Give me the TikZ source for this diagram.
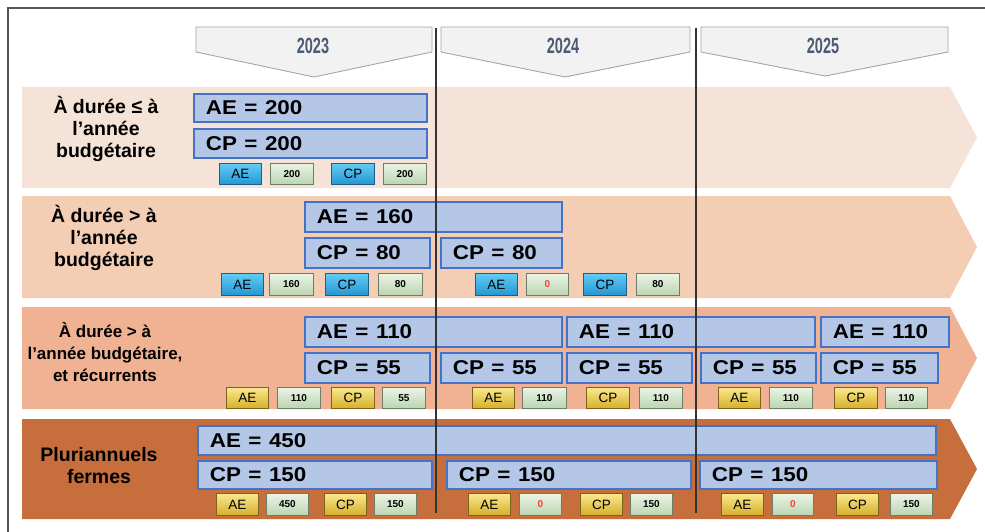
\documentclass[tikz,border=0pt]{standalone}
\usepackage{fontspec}
\setmainfont{Liberation Sans}
\usepackage{graphicx}
\definecolor{bandA}{HTML}{F6E3D8}
\definecolor{bandB}{HTML}{F4CDB5}
\definecolor{bandC}{HTML}{F0B293}
\definecolor{bandD}{HTML}{C66F3D}
\definecolor{chevfill}{HTML}{F2F2F2}
\definecolor{chevline}{HTML}{A6A6A6}
\definecolor{yeartext}{HTML}{4B5A75}
\definecolor{boxfill}{HTML}{B4C7E7}
\definecolor{boxline}{HTML}{4472C4}
\definecolor{divline}{HTML}{333333}
\definecolor{frameline}{HTML}{555555}
\definecolor{bluetop}{HTML}{62CCF5}
\definecolor{bluebot}{HTML}{2496D2}
\definecolor{blueedge}{HTML}{1B5E8C}
\definecolor{goldtop}{HTML}{FAE88E}
\definecolor{goldbot}{HTML}{D6AF2C}
\definecolor{goldedge}{HTML}{7E6418}
\definecolor{greentop}{HTML}{EAF4E4}
\definecolor{greenbot}{HTML}{BBD5B1}
\definecolor{greenedge}{HTML}{6E7D68}
\definecolor{zerored}{HTML}{E8483A}
\tikzset{
  bandshape/.style={draw=none},
  chev/.style={fill=chevfill, draw=chevline, line width=0.9pt},
  yearlabel/.style={text=yeartext, inner sep=0pt, font=\fontsize{22}{24}\selectfont\bfseries},
  bluebox/.style={draw=boxline, fill=boxfill, line width=1.8pt, inner xsep=12pt, inner ysep=0pt, align=left, font=\fontsize{20}{22}\selectfont\bfseries},
  rowlabel/.style={align=center, inner sep=0pt, font=\fontsize{19.5}{22}\selectfont\bfseries},
  bdg/.style={inner sep=0pt, line width=0.9pt},
  bluebdg/.style={bdg, top color=bluetop, bottom color=bluebot, draw=blueedge, font=\fontsize{13.5}{14}\selectfont},
  goldbdg/.style={bdg, top color=goldtop, bottom color=goldbot, draw=goldedge, font=\fontsize{13.5}{14}\selectfont},
  numbdg/.style={bdg, top color=greentop, bottom color=greenbot, draw=greenedge, font=\fontsize{10}{11}\selectfont\bfseries},
  divider/.style={draw=divline, line width=1.2pt},
  frame/.style={draw=frameline, line width=1.2pt},
}
\newcommand\bbox[6]{%
  \pgfmathsetmacro\bbh{#5-#3}\pgfmathsetmacro\bbt{#4-#2-24}%
  \node[bluebox, anchor=north west, minimum height=\bbh pt, text width=\bbt pt] (#1) at (#2,#3) {\scalebox{1.12}[1]{#6}};}
\newcommand\badge[7]{%
  \pgfmathsetmacro\bdw{#5-#3}\pgfmathsetmacro\bdh{#6-#4}%
  \node[#1, anchor=north west, minimum width=\bdw pt, minimum height=\bdh pt] (#2) at (#3,#4) {#7};}
\begin{document}
\begin{tikzpicture}[x=1pt,y=-1pt]
\useasboundingbox (0,0) rectangle (985,532);
\fill[white] (0,0) rectangle (985,532);
% bands
\fill[bandA] (22,87) -- (950,87) -- (977,137.5) -- (950,188) -- (22,188) -- cycle;
\fill[bandB] (22,196) -- (950,196) -- (977,247) -- (950,298) -- (22,298) -- cycle;
\fill[bandC] (22,307) -- (950,307) -- (977,358) -- (950,409) -- (22,409) -- cycle;
\fill[bandD] (22,419) -- (950,419) -- (977,469) -- (950,519) -- (22,519) -- cycle;
% year chevrons
\draw[chev] (196,27) -- (432,27) -- (432,52) -- (314,77) -- (196,52) -- cycle;
\draw[chev] (441,27) -- (690,27) -- (690,52) -- (565,77) -- (441,52) -- cycle;
\draw[chev] (701,27) -- (948,27) -- (948,52) -- (825,76) -- (701,52) -- cycle;
\node[yearlabel] (y23) at (313,46) {\scalebox{0.66}[1]{2023}};
\node[yearlabel] (y24) at (563,46) {\scalebox{0.66}[1]{2024}};
\node[yearlabel] (y25) at (823,46) {\scalebox{0.66}[1]{2025}};
% row labels
\node[rowlabel] (lab1) at (106,129) {À durée ≤ à\\l’année\\budgétaire};
\node[rowlabel] (lab2) at (104,238) {À durée > à\\l’année\\budgétaire};
\node[rowlabel, font=\fontsize{17}{22}\selectfont\bfseries] (lab3) at (105,352) {À durée > à\\l’année budgétaire,\\et récurrents};
\node[rowlabel] (lab4) at (99,466) {Pluriannuels\\fermes};
% row 1
\bbox{r1ae}{193}{93}{426}{121}{AE = 200}
\bbox{r1cp}{193}{128}{426}{157}{CP = 200}
\badge{bluebdg}{r1b1}{219}{163}{261}{184}{AE}
\badge{numbdg}{r1b2}{270}{163}{313}{184}{200}
\badge{bluebdg}{r1b3}{331}{163}{374}{184}{CP}
\badge{numbdg}{r1b4}{383}{163}{426}{184}{200}
% row 2
\bbox{r2ae}{304}{201}{561}{231}{AE = 160}
\bbox{r2cpa}{304}{237}{429}{267}{CP = 80}
\bbox{r2cpb}{440}{237}{561}{267}{CP = 80}
\badge{bluebdg}{r2b1}{221}{273}{263}{295}{AE}
\badge{numbdg}{r2b2}{269}{273}{313}{295}{160}
\badge{bluebdg}{r2b3}{325}{273}{368}{295}{CP}
\badge{numbdg}{r2b4}{378}{273}{422}{295}{80}
\badge{bluebdg}{r2b5}{475}{273}{517}{295}{AE}
\badge{numbdg}{r2b6}{526}{273}{568}{295}{\textcolor{zerored}{0}}
\badge{bluebdg}{r2b7}{583}{273}{626}{295}{CP}
\badge{numbdg}{r2b8}{636}{273}{679}{295}{80}
% row 3
\bbox{r3aea}{304}{316}{561}{346}{AE = 110}
\bbox{r3aeb}{566}{316}{814}{346}{AE = 110}
\bbox{r3aec}{820}{316}{948}{346}{AE = 110}
\bbox{r3cpa}{304}{352}{429}{382}{CP = 55}
\bbox{r3cpb}{440}{352}{561}{382}{CP = 55}
\bbox{r3cpc}{566}{352}{691}{382}{CP = 55}
\bbox{r3cpd}{700}{352}{815}{382}{CP = 55}
\bbox{r3cpe}{820}{352}{937}{382}{CP = 55}
\badge{goldbdg}{r3b1}{226}{387}{268}{408}{AE}
\badge{numbdg}{r3b2}{277}{387}{320}{408}{110}
\badge{goldbdg}{r3b3}{331}{387}{374}{408}{CP}
\badge{numbdg}{r3b4}{382}{387}{425}{408}{55}
\badge{goldbdg}{r3b5}{472}{387}{514}{408}{AE}
\badge{numbdg}{r3b6}{522}{387}{566}{408}{110}
\badge{goldbdg}{r3b7}{586}{387}{629}{408}{CP}
\badge{numbdg}{r3b8}{639}{387}{682}{408}{110}
\badge{goldbdg}{r3b9}{718}{387}{760}{408}{AE}
\badge{numbdg}{r3b10}{769}{387}{812}{408}{110}
\badge{goldbdg}{r3b11}{834}{387}{877}{408}{CP}
\badge{numbdg}{r3b12}{885}{387}{927}{408}{110}
% row 4
\bbox{r4ae}{197}{425}{935}{454}{AE = 450}
\bbox{r4cpa}{197}{460}{431}{488}{CP = 150}
\bbox{r4cpb}{446}{460}{690}{488}{CP = 150}
\bbox{r4cpc}{699}{460}{936}{488}{CP = 150}
\badge{goldbdg}{r4b1}{216}{493}{258}{515}{AE}
\badge{numbdg}{r4b2}{266}{493}{308}{515}{450}
\badge{goldbdg}{r4b3}{324}{493}{366}{515}{CP}
\badge{numbdg}{r4b4}{374}{493}{416}{515}{150}
\badge{goldbdg}{r4b5}{468}{493}{510}{515}{AE}
\badge{numbdg}{r4b6}{519}{493}{561}{515}{\textcolor{zerored}{0}}
\badge{goldbdg}{r4b7}{580}{493}{622}{515}{CP}
\badge{numbdg}{r4b8}{630}{493}{672}{515}{150}
\badge{goldbdg}{r4b9}{721}{493}{763}{515}{AE}
\badge{numbdg}{r4b10}{772}{493}{813}{515}{\textcolor{zerored}{0}}
\badge{goldbdg}{r4b11}{836}{493}{878}{515}{CP}
\badge{numbdg}{r4b12}{890}{493}{932}{515}{150}
% dividers
\coordinate (d1top) at (436,28);
\coordinate (d1bot) at (436,513);
\coordinate (d2top) at (696,28);
\coordinate (d2bot) at (696,513);
\draw[divider] (d1top) -- (d1bot);
\draw[divider] (d2top) -- (d2bot);
% frame
\coordinate (fr1) at (985,8);
\coordinate (fr2) at (8,8);
\coordinate (fr3) at (8,532);
\draw[frame] (fr1) -- (fr2) -- (fr3);
\end{tikzpicture}
\end{document}
